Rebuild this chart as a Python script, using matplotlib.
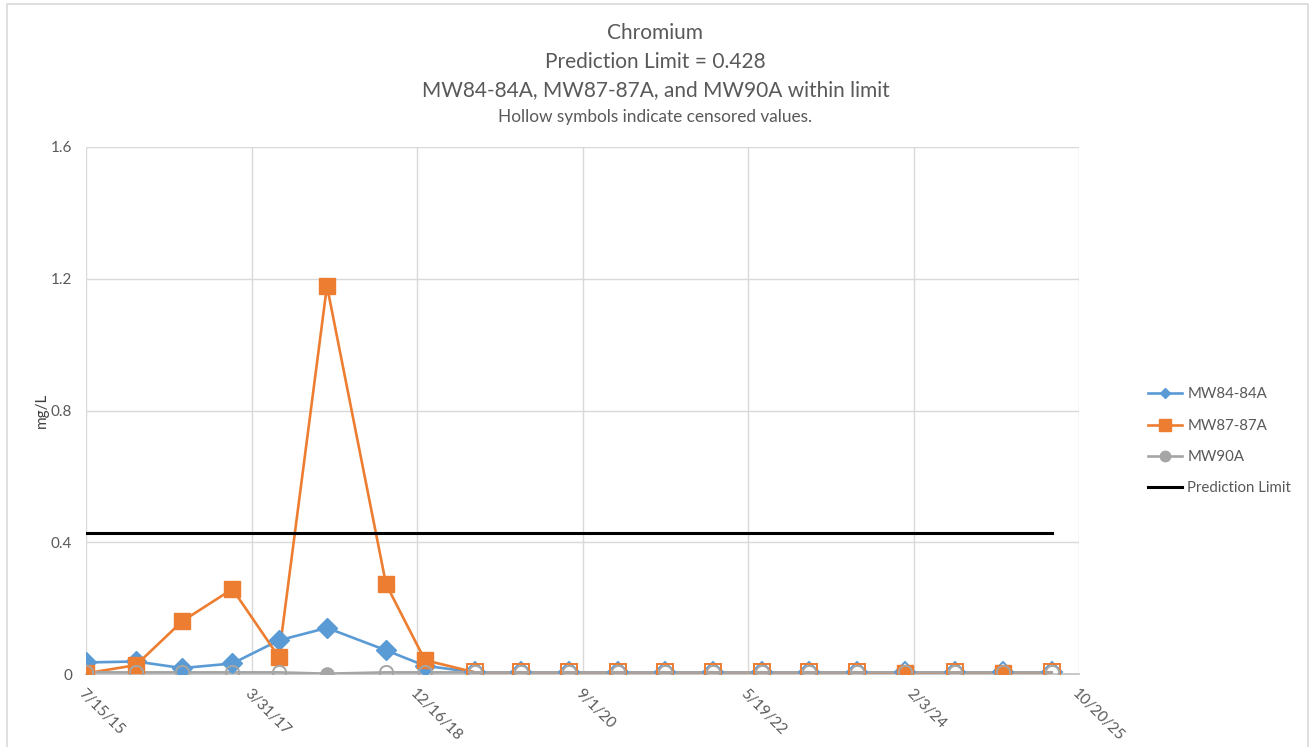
import matplotlib.pyplot as plt
import matplotlib.dates as mdates
from matplotlib.lines import Line2D
from matplotlib.patches import Rectangle
import numpy as np
import pandas as pd

plt.rcParams["font.family"] = ["Lato", "DejaVu Sans"]

dates = pd.to_datetime([
    "2015-07-15", "2016-01-20", "2016-07-12", "2017-01-18", "2017-07-12",
    "2018-01-10", "2018-08-21", "2019-01-15", "2019-07-23", "2020-01-14",
    "2020-07-12", "2021-01-13", "2021-07-10", "2022-01-07", "2022-07-11",
    "2023-01-04", "2023-07-05", "2024-01-02", "2024-07-09", "2025-01-06",
    "2025-07-09",
])

mw84 = [0.035, 0.038, 0.018, 0.032, 0.102, 0.140, 0.072, 0.025,
        0.005, 0.005, 0.005, 0.005, 0.005, 0.005, 0.005, 0.005,
        0.005, 0.005, 0.005, 0.005, 0.005]
mw84_cens = [0] * 8 + [1] * 13

mw87 = [0.002, 0.027, 0.160, 0.258, 0.052, 1.178, 0.273, 0.042,
        0.005, 0.005, 0.005, 0.005, 0.005, 0.005, 0.005, 0.005,
        0.005, 0.002, 0.005, 0.004, 0.005]
mw87_cens = [0] * 8 + [1] * 9 + [0, 1, 0, 1]

mw90 = [0.005, 0.005, 0.005, 0.005, 0.005, 0.001, 0.005, 0.005,
        0.005, 0.005, 0.005, 0.005, 0.005, 0.005, 0.005, 0.005,
        0.005, 0.005, 0.005, 0.005, 0.005]
mw90_cens = [1] * 5 + [0] + [1] * 15

pred_limit = 0.428

series = [
    ("MW84-84A", mw84, mw84_cens, "#5B9BD5", "D", 10.5, 5.5),
    ("MW87-87A", mw87, mw87_cens, "#ED7D31", "s", 11.5, 8),
    ("MW90A", mw90, mw90_cens, "#A5A5A5", "o", 9.5, 7.5),
]

fig = plt.figure(figsize=(13.11, 7.47), dpi=100)
ax = fig.add_axes([86 / 1311, 1 - 674 / 747, (1079 - 86) / 1311, (674 - 147) / 747])

handles = []
for name, vals, cens, col, mk, ms, leg_ms in series:
    vals = np.array(vals)
    cens = np.array(cens, dtype=bool)
    ax.plot(dates, vals, color=col, lw=1.9, zorder=3, solid_capstyle="round")
    ax.plot(dates[~cens], vals[~cens], ls="none", marker=mk, ms=ms,
            color=col, mec=col, zorder=4)
    ax.plot(dates[cens], vals[cens], ls="none", marker=mk, ms=ms,
            mfc="none", mec=col, mew=1.4, zorder=4)
    handles.append(Line2D([], [], color=col, lw=1.9, marker=mk, ms=leg_ms,
                          label=name))

ax.plot([dates[0], dates[-1]], [pred_limit, pred_limit], color="black",
        lw=2.2, zorder=5)
handles.append(Line2D([], [], color="black", lw=2.2, label="Prediction Limit"))

# axes
start = pd.Timestamp("2015-07-15")
xticks = [start + pd.Timedelta(days=625 * k) for k in range(7)]
ax.set_xlim(mdates.date2num(xticks[0]), mdates.date2num(xticks[-1]))
ax.set_xticks(mdates.date2num(xticks))
ax.set_xticklabels([f"{d.month}/{d.day}/{d.strftime('%y')}" for d in xticks],
                   rotation=-45, ha="left", va="top", rotation_mode="anchor",
                   color="#595959", fontsize=11)
ax.set_ylim(0, 1.6)
ax.set_yticks([0, 0.4, 0.8, 1.2, 1.6])
ax.set_yticklabels(["0", "0.4", "0.8", "1.2", "1.6"], color="#595959", fontsize=11)
ax.tick_params(length=0, pad=10)
ax.tick_params(axis="x", pad=9)
ax.grid(True, color="#D9D9D9", lw=1)
ax.set_axisbelow(True)
for s in ["top", "right", "left"]:
    ax.spines[s].set_visible(False)
ax.spines["bottom"].set_color("#BFBFBF")
ax.spines["bottom"].set_linewidth(1.2)

ax.set_ylabel("mg/L", fontsize=11, color="#404040", labelpad=1)

# titles
fig.text(0.5, 1 - 33 / 747, "Chromium", ha="center", va="center",
         fontsize=15, color="#595959")
fig.text(0.5, 1 - 62 / 747, "Prediction Limit = 0.428", ha="center",
         va="center", fontsize=15, color="#595959")
fig.text(0.5, 1 - 90 / 747, "MW84-84A, MW87-87A, and MW90A within limit",
         ha="center", va="center", fontsize=15, color="#595959")
fig.text(0.5, 1 - 117 / 747, "Hollow symbols indicate censored values.",
         ha="center", va="center", fontsize=12.4, color="#595959")

leg = fig.legend(handles=handles, loc="upper left",
                 bbox_to_anchor=(1134 / 1311, 1 - 374 / 747), frameon=False,
                 fontsize=10.8, labelcolor="#595959", handlelength=2.3,
                 handletextpad=0.35, labelspacing=1.15)

fig.patches.append(Rectangle((7 / 1311, -0.05), 1301 / 1311, 1.05 - 4 / 747,
                             transform=fig.transFigure, fill=False,
                             ec="#D9D9D9", lw=1.2))

fig.savefig("out.png", dpi=100)
